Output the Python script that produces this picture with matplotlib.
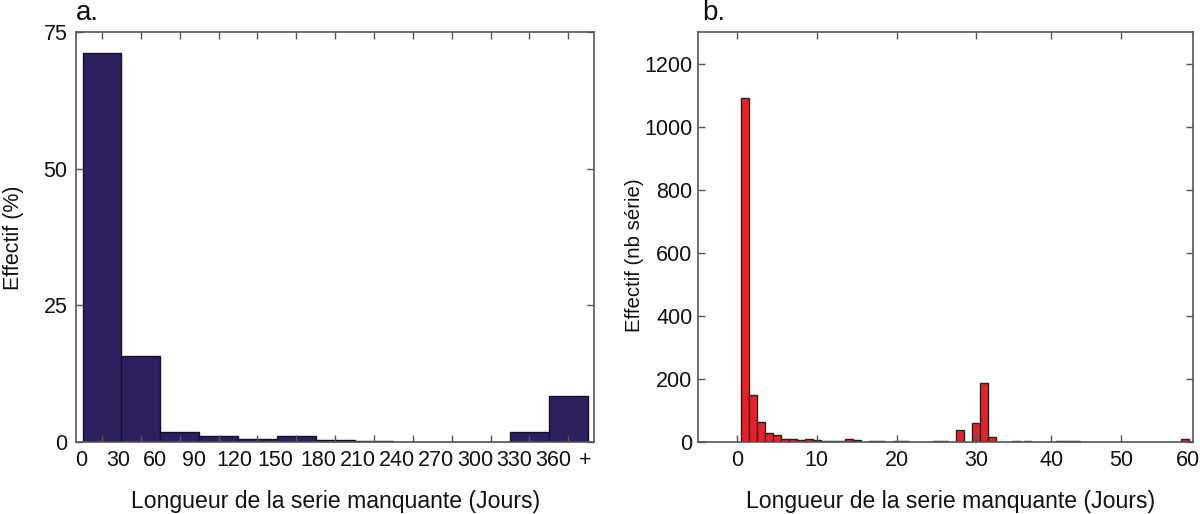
import matplotlib
matplotlib.use("Agg")
import matplotlib.pyplot as plt

plt.rcParams['font.family'] = ['Liberation Sans', 'DejaVu Sans']

W, H = 1200, 514
GREY = '#555555'

# Panel a
a_pos = list(range(13))
a_values = [71.1, 15.7, 1.8, 1.05, 0.55, 1.1, 0.35, 0.25, 0.06, 0.05, 0.05, 1.8, 8.4]
a_labels = ['0', '30', '60', '90', '120', '150', '180', '210', '240', '270', '300', '330', '360', '+']
a_label_pos = [-0.53, 0.41, 1.36, 2.36, 3.40, 4.46, 5.56, 6.58, 7.59, 8.60, 9.60, 10.60, 11.60, 12.43]
a_yticks = [0, 25, 50, 75]

# Panel b (the reference's x axis labels are unevenly spaced above 30)
b_days = [1, 2, 3, 4, 5, 6, 7, 8, 9, 10, 11, 12, 13, 14, 15, 17, 18, 20, 21, 24, 25, 26, 28, 30, 31, 32, 35, 36.4, 40.5, 41.5, 42.5, 56.1]
b_counts = [1090, 150, 62, 29, 21, 8, 8, 6, 10, 5, 2, 2, 2, 8, 5, 2, 2, 2, 2, 1, 2, 2, 38, 59, 188, 15, 2, 2, 2, 2, 2, 8]
b_xticks = [0, 10, 20, 30, 39.4, 48.1]
b_xticklabels = ['0', '10', '20', '30', '40', '50']
b_last_label_pos = [56.5]
b_last_label = ['60']
b_yticks = [0, 200, 400, 600, 800, 1000, 1200]


def add_axes(l, r, t, b):
    return fig.add_axes([l / W, 1 - b / H, (r - l) / W, (b - t) / H])


def style(ax):
    for s in ax.spines.values():
        s.set_color(GREY)
        s.set_linewidth(1.2)


def labels(ax, xlabel, ylabel, xx, xy, yx, yy, yfont):
    ax.set_xlabel(xlabel, fontsize=16.6, color='#111111', va='center')
    ax.xaxis.set_label_coords(xx, xy)
    ax.set_ylabel(ylabel, fontsize=yfont, color='#111111', va='center')
    ax.yaxis.set_label_coords(yx, yy)


fig = plt.figure(figsize=(W / 100, H / 100), dpi=100)

ax = add_axes(76, 594, 32, 442)
ax.bar(a_pos, a_values, width=1.0, color='#2e1f5e', edgecolor='#14102e', linewidth=1.0)
ax.set_xlim(-0.67, 12.66)
ax.set_ylim(0, 75)
ax.set_xticks(a_pos)
ax.set_xticklabels([])
ax.tick_params(axis='x', which='major', direction='in', length=5, width=1, color=GREY, top=True, bottom=True)
ax.set_xticks(a_label_pos, minor=True)
ax.set_xticklabels(a_labels, minor=True, fontsize=15.5, color='#111111')
ax.tick_params(axis='x', which='minor', length=0, pad=6)
ax.set_yticks(a_yticks)
ax.tick_params(axis='y', direction='in', length=5, width=1, color=GREY, labelsize=15.5, labelcolor='#111111', pad=6, left=True, right=True)
style(ax)
labels(ax, 'Longueur de la serie manquante (Jours)', 'Effectif (%)', 0.502, -0.144, -0.121, 0.4976, 15.5)
ax.text(0.0, 1.015, 'a.', transform=ax.transAxes, fontsize=20, color='#111111', va='bottom', ha='left')

bx = add_axes(698, 1193, 32, 442)
bx.bar(b_days, b_counts, width=1.0, color='#e8202a', edgecolor='#222222', linewidth=1.0)
bx.set_xlim(-4.89, 57.14)
bx.set_ylim(0, 1300)
bx.set_xticks(b_xticks)
bx.set_xticklabels(b_xticklabels)
bx.tick_params(axis='x', which='major', direction='in', length=5, width=1, color=GREY, labelsize=15.5, labelcolor='#111111', pad=6, top=True, bottom=True)
bx.set_xticks(b_last_label_pos, minor=True)
bx.set_xticklabels(b_last_label, minor=True, fontsize=15.5, color='#111111')
bx.tick_params(axis='x', which='minor', length=0, pad=6)
bx.set_yticks(b_yticks)
bx.tick_params(axis='y', direction='in', length=5, width=1, color=GREY, labelsize=15.5, labelcolor='#111111', pad=4, left=True, right=True)
style(bx)
labels(bx, 'Longueur de la serie manquante (Jours)', 'Effectif (nb série)', 0.511, -0.144, -0.129, 0.456, 14.7)
bx.text(0.008, 1.015, 'b.', transform=bx.transAxes, fontsize=20, color='#111111', va='bottom', ha='left')

fig.savefig('out.png', dpi=100, facecolor='white')
